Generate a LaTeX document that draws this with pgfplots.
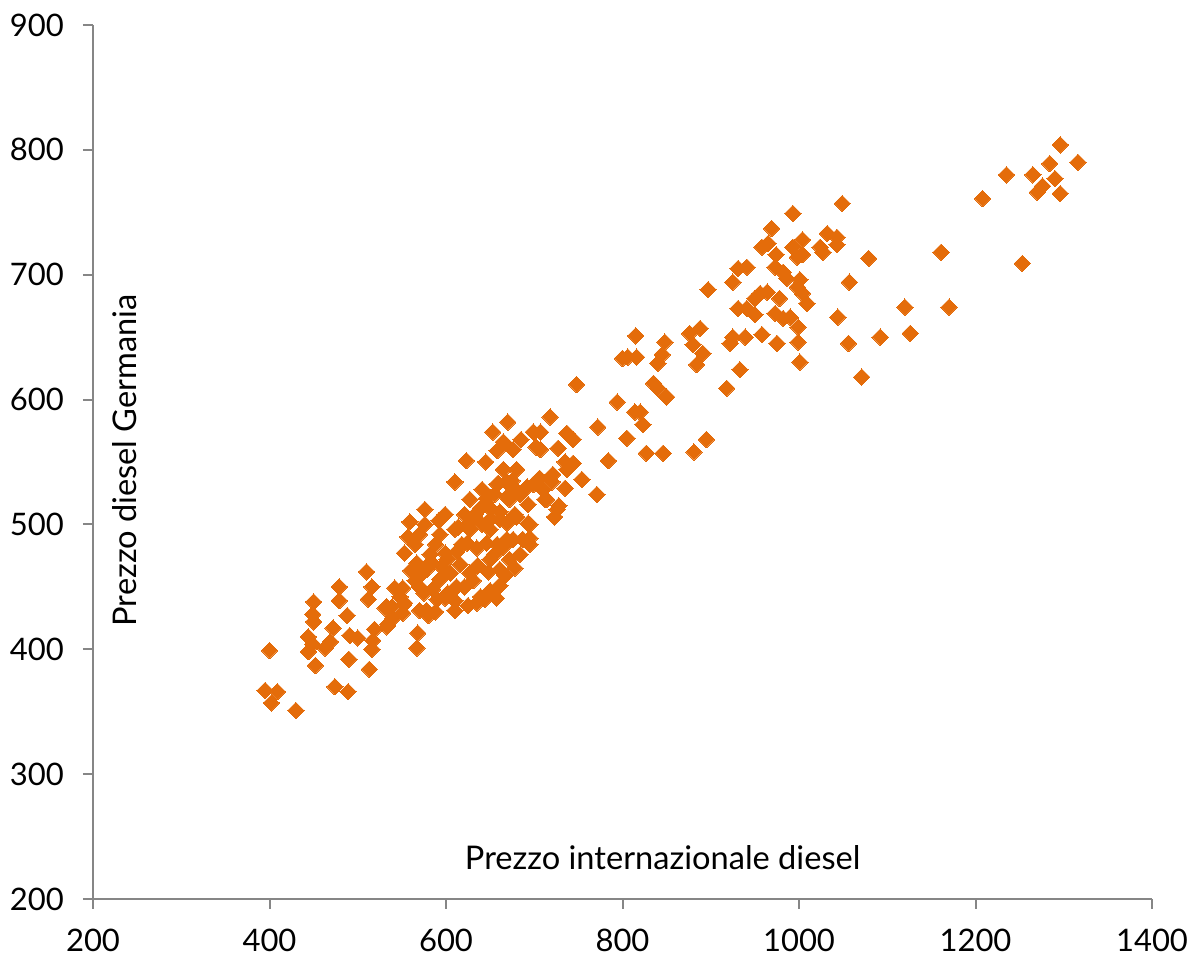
\documentclass[border=0pt]{standalone}
\usepackage{fontspec}
\setmainfont{Lato}
\usepackage{pgfplots}
\pgfplotsset{compat=1.18}
\definecolor{axisgray}{RGB}{134,134,134}
\definecolor{dieselorange}{RGB}{228,108,10}
\begin{document}
\begin{tikzpicture}
\begin{axis}[
  name=ax,
  scale only axis,
  width=529.5pt, height=437pt,
  xmin=200, xmax=1400, ymin=200, ymax=900,
  xtick={200,400,...,1400},
  ytick={200,300,...,900},
  axis x line=bottom, axis y line=left,
  axis line style={draw=axisgray, line width=1pt, -},
  tick style={draw=axisgray, line width=1pt},
  tick align=outside,
  major tick length=5pt,
  /pgf/number format/assume math mode=true,
  /pgf/number format/1000 sep={},
  ticklabel style={font=\fontsize{15.5}{18}\selectfont, text=black},
  x tick label style={yshift=-6.5pt},
  y tick label style={xshift=-6pt},
  xlabel={Prezzo internazionale diesel},
  ylabel={Prezzo diesel Germania},
  label style={font=\fontsize{16.3}{19}\selectfont},
  xlabel style={at={(axis description cs:0.538,0.047)}, anchor=center},
  ylabel style={at={(axis description cs:0.030,0.502)}, anchor=center, rotate=0},
  clip=false,
]
\addplot[only marks, mark=square*, mark size=2.9pt,
  mark options={rotate=45, draw=dieselorange, fill=dieselorange, line width=0pt}]
  table[row sep=\\] {
x y\\
395 367\\ 400 399\\ 402 357\\ 409 366\\ 430 351\\ 444 398\\ 444 410\\ 449 404\\
449 428\\ 450 422\\ 450 438\\ 452 387\\ 463 401\\ 469 406\\ 472 417\\ 474 370\\
479 439\\ 479 450\\ 488 427\\ 489 366\\ 490 392\\ 491 411\\ 500 409\\ 510 462\\
512 440\\ 513 384\\ 516 400\\ 516 450\\ 517 407\\ 519 416\\ 531 433\\ 534 420\\
539 434\\ 553 437\\ 551 429\\ 567 401\\ 568 413\\ 570 431\\ 578 431\\ 533 418\\
540 425\\ 533 434\\ 548 442\\ 551 449\\ 542 449\\ 552 436\\ 570 450\\ 578 464\\
567 469\\ 553 477\\ 557 490\\ 559 502\\ 570 492\\ 576 512\\ 592 503\\ 588 484\\
599 477\\ 612 478\\ 624 485\\ 635 481\\ 646 485\\ 655 476\\ 665 482\\ 676 488\\
636 467\\ 648 462\\ 627 461\\ 605 461\\ 593 456\\ 588 430\\ 580 427\\ 599 441\\
602 445\\ 625 435\\ 639 442\\ 612 450\\ 621 450\\ 582 476\\ 565 484\\ 576 500\\
593 492\\ 610 496\\ 599 508\\ 621 508\\ 616 468\\ 631 455\\ 610 439\\ 650 447\\
661 451\\ 667 459\\ 657 441\\ 644 440\\ 610 431\\ 635 437\\ 650 472\\ 661 464\\
672 472\\ 684 476\\ 695 500\\ 678 508\\ 661 504\\ 641 500\\ 627 496\\ 672 520\\
655 524\\ 614 498\\ 627 501\\ 639 513\\ 646 521\\ 658 532\\ 669 534\\ 676 530\\
699 532\\ 714 520\\ 726 512\\ 723 506\\ 693 501\\ 680 506\\ 669 501\\ 661 510\\
650 504\\ 653 574\\ 670 582\\ 685 568\\ 699 574\\ 702 562\\ 676 560\\ 658 559\\
645 550\\ 665 544\\ 680 544\\ 659 533\\ 675 535\\ 692 530\\ 706 537\\ 684 524\\
669 522\\ 693 516\\ 641 528\\ 627 520\\ 610 534\\ 633 508\\ 650 513\\ 623 551\\
618 484\\ 601 472\\ 678 465\\ 669 488\\ 687 488\\ 695 489\\ 650 496\\ 658 484\\
695 484\\ 572 460\\ 583 470\\ 595 466\\ 560 463\\ 565 455\\ 575 445\\ 585 448\\
590 440\\ 665 566\\
707 574\\ 707 560\\ 718 586\\ 720 534\\ 721 540\\ 727 561\\ 728 515\\ 710 528\\
712 520\\ 735 529\\ 735 550\\ 737 573\\ 744 568\\ 744 549\\ 737 544\\ 754 536\\
771 524\\ 772 578\\ 784 551\\ 794 598\\ 805 569\\ 814 590\\ 748 612\\ 823 580\\
827 557\\ 846 557\\ 881 558\\ 895 568\\ 835 613\\ 840 609\\ 850 602\\ 820 590\\
840 629\\ 845 636\\ 848 646\\ 816 634\\ 806 634\\ 815 651\\ 800 633\\ 876 653\\
888 657\\ 880 644\\ 891 637\\ 884 628\\ 897 688\\ 918 609\\ 933 624\\ 925 650\\
939 650\\ 922 645\\ 958 652\\ 975 645\\ 999 646\\ 1001 630\\ 925 694\\ 931 705\\
941 706\\ 931 673\\ 941 673\\ 950 668\\ 950 681\\ 956 685\\ 964 686\\ 973 669\\
978 681\\ 982 665\\ 990 666\\ 999 658\\ 958 722\\ 965 725\\ 969 737\\ 993 749\\
993 722\\ 1004 728\\ 998 714\\ 1004 716\\ 974 716\\ 973 706\\ 982 702\\ 986 697\\
1001 696\\ 998 690\\ 1004 685\\ 1009 677\\ 1024 722\\ 1032 733\\ 1043 730\\ 1043 724\\
1027 718\\ 1049 757\\ 1079 713\\ 1057 694\\ 1044 666\\ 1056 645\\ 1092 650\\ 1126 653\\
1120 674\\ 1170 674\\ 1071 618\\ 1161 718\\ 1253 709\\ 1208 761\\ 1235 780\\ 1265 780\\
1284 789\\ 1296 804\\ 1316 790\\ 1290 777\\ 1276 771\\ 1270 766\\ 1296 765\\
};
\end{axis}
\pgfresetboundingbox
\path[use as bounding box] ([xshift=-46.5pt,yshift=-28.5pt]ax.south west) rectangle ([xshift=20pt,yshift=12.5pt]ax.north east);
\end{tikzpicture}
\end{document}
